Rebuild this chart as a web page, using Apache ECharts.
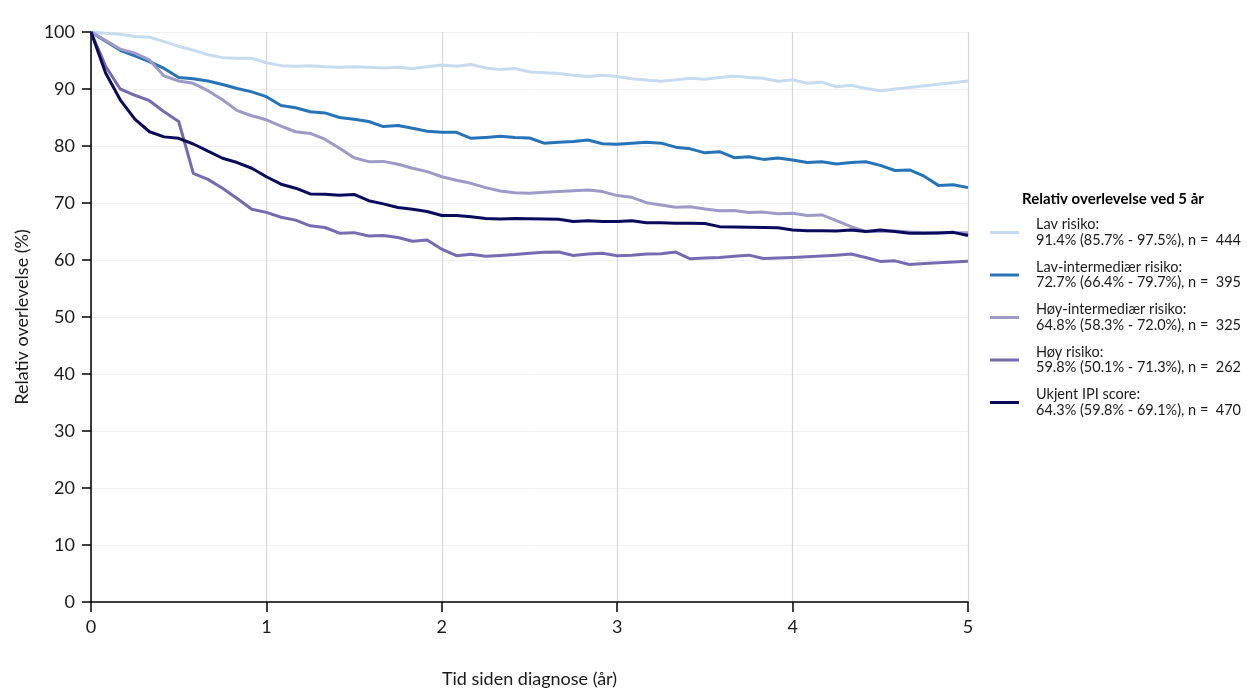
<!DOCTYPE html>
<html>
<head>
<meta charset="utf-8">
<script src="https://cdn.jsdelivr.net/npm/echarts@6/dist/echarts.min.js"></script>
<style>
  html, body { margin: 0; padding: 0; background: #fff; }
  #chart { width: 1247px; height: 693px; }
</style>
</head>
<body>
<div id="chart"></div>
<script>
// Months since diagnosis (0..60)
const months = [0,1,2,3,4,5,6,7,8,9,10,11,12,13,14,15,16,17,18,19,20,
  21,22,23,24,25,26,27,28,29,30,31,32,33,34,35,36,37,38,39,40,
  41,42,43,44,45,46,47,48,49,50,51,52,53,54,55,56,57,58,59,60];

const groupNames = ['Lav risiko', 'Lav-intermediær risiko', 'Høy-intermediær risiko', 'Høy risiko', 'Ukjent IPI score'];
const groupStats = [
  '91.4% (85.7% - 97.5%), n =  444',
  '72.7% (66.4% - 79.7%), n =  395',
  '64.8% (58.3% - 72.0%), n =  325',
  '59.8% (50.1% - 71.3%), n =  262',
  '64.3% (59.8% - 69.1%), n =  470'
];
const groupColors = ['#c6dbef', '#2474b7', '#9e9ac8', '#756bb1', '#0a0a5c'];

// Relative survival (%) per month
const lavRisiko = [100,99.8,99.6,99.2,99.1,98.3,97.5,96.8,96.0,95.5,95.4,95.4,94.6,94.1,94.0,94.1,93.9,93.8,93.9,93.8,93.7,
  93.8,93.6,93.9,94.2,94.0,94.3,93.7,93.4,93.6,93.0,92.85,92.7,92.4,92.2,92.4,92.2,91.8,91.6,91.35,91.6,
  91.9,91.7,92.0,92.3,92.0,91.9,91.35,91.6,91.0,91.2,90.4,90.65,90.1,89.7,null,null,null,null,null,91.4];

const lavIntermediaer = [100,98.4,96.8,95.8,94.8,93.6,92.0,91.8,91.4,90.8,90.1,89.5,88.65,87.1,86.7,86.0,85.8,85.0,84.7,84.3,83.4,
  83.6,83.1,82.6,82.4,82.4,81.35,81.5,81.7,81.5,81.4,80.5,80.65,80.8,81.05,80.4,80.3,80.5,80.65,80.5,79.8,
  79.5,78.8,79.0,77.95,78.1,77.65,77.9,77.55,77.1,77.25,76.85,77.1,77.25,76.6,75.7,75.8,74.7,73.05,73.2,72.7];

const hoyIntermediaer = [100,98.5,97.0,96.3,95.1,92.3,91.4,91.0,89.7,88.1,86.2,85.3,84.6,83.5,82.5,82.2,81.2,79.6,77.95,77.25,77.3,
  76.8,76.1,75.5,74.6,74.0,73.45,72.7,72.1,71.8,71.7,71.9,72.0,72.15,72.3,72.0,71.3,71.0,70.05,69.65,69.25,
  69.35,68.95,68.65,68.7,68.35,68.4,68.1,68.2,67.8,67.9,66.9,65.85,65.0,65.0,65.1,64.9,64.8,64.8,64.8,64.8];

const hoyRisiko = [100,94.0,90.0,88.9,87.95,86.0,84.3,75.2,74.15,72.6,70.8,68.9,68.35,67.5,67.0,66.0,65.7,64.7,64.8,64.2,64.3,
  63.95,63.3,63.5,61.9,60.75,61.0,60.65,60.8,60.95,61.2,61.35,61.4,60.8,61.05,61.2,60.75,60.85,61.05,61.1,61.4,
  60.2,60.35,60.45,60.65,60.85,60.25,60.35,60.45,60.55,60.7,60.85,61.05,60.45,59.75,59.85,59.2,59.4,59.5,59.65,59.8];

const ukjentIPI = [100,92.8,88.1,84.7,82.5,81.6,81.35,80.35,79.1,77.85,77.1,76.1,74.6,73.3,72.6,71.6,71.55,71.35,71.5,70.4,69.85,
  69.2,68.9,68.5,67.8,67.8,67.6,67.3,67.2,67.3,67.25,67.2,67.15,66.75,66.9,66.75,66.75,66.9,66.55,66.55,66.45,
  66.45,66.4,65.85,65.8,65.75,65.7,65.65,65.25,65.15,65.15,65.1,65.25,65.0,65.25,65.0,64.7,64.7,64.75,64.85,64.3];

const yTicks = [0,10,20,30,40,50,60,70,80,90,100];
const xTicks = [0,1,2,3,4,5];

const seriesValues = [lavRisiko, lavIntermediaer, hoyIntermediaer, hoyRisiko, ukjentIPI];

const FONT = 'Lato';

const chart = echarts.init(document.getElementById('chart'), null, { renderer: 'canvas' });

const series = seriesValues.map((vals, i) => ({
  name: groupNames[i],
  type: 'line',
  data: months.map((m, k) => [m / 12, vals[k]]),
  connectNulls: true,
  showSymbol: false,
  symbol: 'none',
  lineStyle: { color: groupColors[i], width: 3, join: 'round' },
  itemStyle: { color: groupColors[i] },
  emphasis: { disabled: true }
}));

chart.setOption({
  animation: false,
  backgroundColor: '#ffffff',
  textStyle: { fontFamily: FONT },
  title: {
    text: 'Relativ overlevelse ved 5 år',
    left: 1022,
    top: 192,
    padding: 0,
    textStyle: { fontFamily: FONT, fontSize: 15, fontWeight: 'bold', color: '#000' }
  },
  legend: {
    orient: 'vertical',
    left: 990,
    top: 217,
    padding: 0,
    itemWidth: 29,
    itemHeight: 3,
    itemGap: 11.5,
    icon: 'rect',
    selectedMode: false,
    data: groupNames,
    formatter: name => name + ':\n' + groupStats[groupNames.indexOf(name)],
    textStyle: {
      fontFamily: FONT,
      fontSize: 14.5,
      lineHeight: 15.5,
      color: '#1a1a1a',
      padding: [0, 0, 0, 12]
    }
  },
  grid: {
    left: 91, right: 1247 - 968, top: 32, bottom: 693 - 602,
    containLabel: false,
    outerBoundsMode: 'none'
  },
  xAxis: {
    type: 'value',
    min: 0,
    max: 5,
    interval: 1,
    name: 'Tid siden diagnose (år)',
    nameLocation: 'middle',
    nameGap: 68,
    nameTextStyle: { fontFamily: FONT, fontSize: 18, color: '#1a1a1a' },
    axisLine: { show: true, onZero: false, lineStyle: { color: '#000', width: 1.5 } },
    axisTick: { show: true, length: 10, lineStyle: { color: '#000', width: 1.5 } },
    axisLabel: {
      fontFamily: FONT, fontSize: 18, color: '#1a1a1a', margin: 16,
      formatter: v => xTicks.includes(v) ? String(v) : ''
    },
    splitLine: { show: true, lineStyle: { color: '#d6d6d6', width: 1.2 } }
  },
  yAxis: {
    type: 'value',
    min: 0,
    max: 100,
    interval: 10,
    name: 'Relativ overlevelse (%)',
    nameLocation: 'middle',
    nameGap: 60,
    nameRotate: 90,
    nameTextStyle: { fontFamily: FONT, fontSize: 18, color: '#1a1a1a' },
    axisLine: { show: true, onZero: false, lineStyle: { color: '#000', width: 1.5 } },
    axisTick: { show: true, length: 9, lineStyle: { color: '#000', width: 1.5 } },
    axisLabel: {
      fontFamily: FONT, fontSize: 18, color: '#1a1a1a', margin: 16,
      formatter: v => yTicks.includes(v) ? String(v) : ''
    },
    splitLine: { show: true, lineStyle: { color: '#f0f0f0', width: 1 } }
  },
  series: series
});
</script>
</body>
</html>
